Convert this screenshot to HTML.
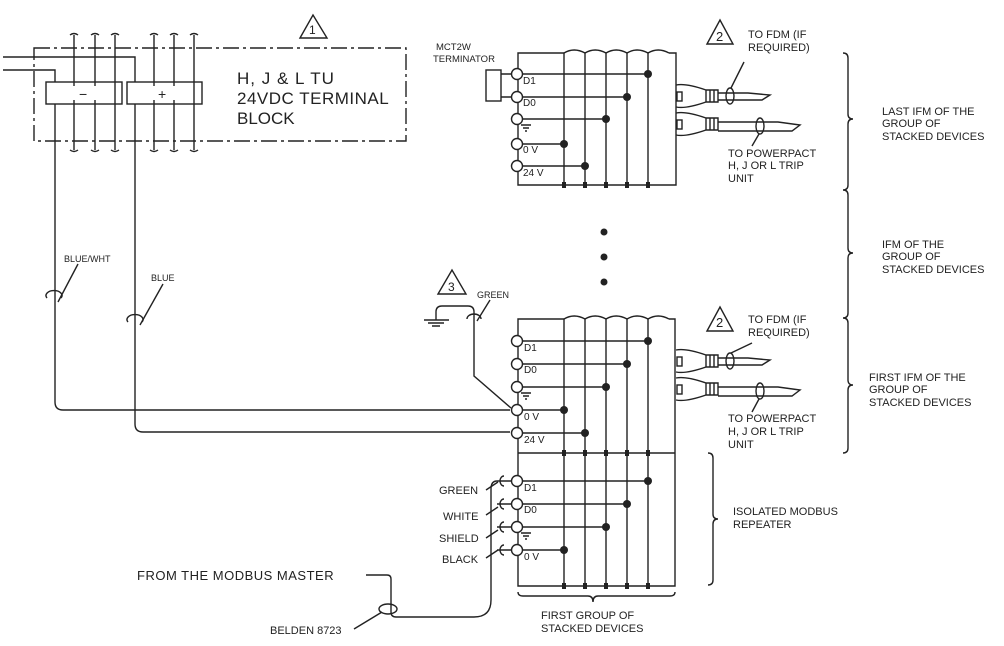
<!DOCTYPE html>
<html><head><meta charset="utf-8"><style>
html,body{margin:0;padding:0;background:#fff;}
svg{display:block;}
text{font-family:"Liberation Sans",sans-serif;fill:#222;}
</style></head><body>
<svg width="1004" height="646" viewBox="0 0 1004 646" xmlns="http://www.w3.org/2000/svg" fill="none" stroke="#222" stroke-width="1.4">
<!-- top terminal block -->
<rect x="34" y="48" width="372" height="93" stroke-dasharray="16,4,3,4"/>
<polygon points="300,38 313,15 327,38"/>
<text x="309" y="34" font-size="12" stroke="none">1</text>
<g>
<line x1="74" y1="35" x2="74" y2="150"/><line x1="95" y1="35" x2="95" y2="150"/><line x1="115" y1="35" x2="115" y2="150"/>
<line x1="154" y1="35" x2="154" y2="150"/><line x1="174" y1="35" x2="174" y2="150"/><line x1="194" y1="35" x2="194" y2="150"/>
<path d="M70,35q4,-3 8,0M91,35q4,-3 8,0M111,35q4,-3 8,0M150,35q4,-3 8,0M170,35q4,-3 8,0M190,35q4,-3 8,0"/>
<path d="M70,150q4,3 8,0M91,150q4,3 8,0M111,150q4,3 8,0M150,150q4,3 8,0M170,150q4,3 8,0M190,150q4,3 8,0"/>
</g>
<rect x="46" y="82" width="76" height="22" fill="#fff"/>
<rect x="127" y="82" width="75" height="22" fill="#fff"/>
<line x1="74" y1="82" x2="74" y2="104"/><line x1="95" y1="82" x2="95" y2="104"/><line x1="115" y1="82" x2="115" y2="104"/>
<line x1="154" y1="82" x2="154" y2="104"/><line x1="174" y1="82" x2="174" y2="104"/><line x1="194" y1="82" x2="194" y2="104"/>
<rect x="70" y="86" width="30" height="14" fill="#fff" stroke="none"/>
<rect x="149" y="86" width="30" height="14" fill="#fff" stroke="none"/>
<text x="79" y="99" font-size="14" stroke="none">−</text>
<text x="158" y="99" font-size="14" stroke="none">+</text>
<text x="237" y="84" font-size="17" stroke="none" letter-spacing="1">H, J &amp; L TU</text>
<text x="237" y="104" font-size="17" stroke="none" letter-spacing="0.5">24VDC TERMINAL</text>
<text x="237" y="124" font-size="17" stroke="none">BLOCK</text>
<path d="M3,57H135V82"/><path d="M3,70H55V82"/>
<!-- supply wires -->
<path d="M55,104V402q0,8 8,8H510"/>
<path d="M135,104V424q0,8 8,8H510"/>
<path d="M47,298a8,5 0 1 1 14,0"/><line x1="58" y1="302" x2="78" y2="264"/>
<text x="64" y="262" font-size="9" stroke="none">BLUE/WHT</text>
<path d="M128,322a8,5 0 1 1 14,0"/><line x1="140" y1="325" x2="163" y2="284"/>
<text x="151" y="281" font-size="9" stroke="none">BLUE</text>

<!-- top module -->
<path d="M564,53H518V185H676V53H669"/>
<path d="M564,53q10,-6 21,0q10,-6 21,0q10,-6 21,0q10,-6 21,0q10,-6 21,0"/>
<g>
<line x1="564" y1="53" x2="564" y2="185"/><line x1="585" y1="53" x2="585" y2="185"/><line x1="606" y1="53" x2="606" y2="185"/><line x1="627" y1="53" x2="627" y2="185"/><line x1="648" y1="53" x2="648" y2="185"/>
</g>
<g fill="#222" stroke="none">
<rect x="562" y="182" width="4" height="6"/><rect x="583" y="182" width="4" height="6"/><rect x="604" y="182" width="4" height="6"/><rect x="625" y="182" width="4" height="6"/><rect x="646" y="182" width="4" height="6"/>
<circle cx="648" cy="74" r="4"/><circle cx="627" cy="97" r="4"/><circle cx="606" cy="119" r="4"/><circle cx="564" cy="144" r="4"/><circle cx="585" cy="166" r="4"/>
</g>
<path d="M523,74H648M523,97H627M523,119H606M523,144H564M523,166H585"/>
<g fill="#fff"><circle cx="517" cy="74" r="5.5"/><circle cx="517" cy="97" r="5.5"/><circle cx="517" cy="119" r="5.5"/><circle cx="517" cy="144" r="5.5"/><circle cx="517" cy="166" r="5.5"/></g>
<rect x="486" y="70" width="15" height="31"/><path d="M501,74H511M501,97H511"/>
<text x="436" y="50" font-size="9.5" stroke="none">MCT2W</text>
<text x="433" y="62" font-size="9.5" stroke="none">TERMINATOR</text>
<g font-size="10" stroke="none">
<text x="523" y="84">D1</text><text x="523" y="106">D0</text><text x="523" y="153">0 V</text><text x="523" y="176">24 V</text>
</g>
<path d="M521,125h10M523,128h6M525,131h2"/>
<!-- top plugs -->
<g id="plugs">
<path d="M676,85q10,-2 30,5h12v12h-12q-20,7 -30,5"/>
<rect x="677" y="92" width="5" height="9"/>
<path d="M706,90v12M710,90v12M714,90v12M718,93h30l22,2l-8,5h-44"/>
<path d="M676,113q10,-2 30,5h12v12h-12q-20,7 -30,5"/>
<rect x="677" y="120" width="5" height="9"/>
<path d="M706,118v12M710,118v12M714,118v12M718,122h60l22,3l-8,6h-74"/>
</g>
<ellipse cx="730" cy="96" rx="4" ry="8"/><line x1="731" y1="88" x2="744" y2="62"/>
<ellipse cx="760" cy="126" rx="4" ry="8"/><line x1="759" y1="134" x2="752" y2="146"/>
<polygon points="707,44 720,20 733,44"/><text x="716" y="41" font-size="13" stroke="none">2</text>
<g font-size="11" stroke="none">
<text x="748" y="38">TO FDM (IF</text><text x="748" y="51">REQUIRED)</text>
<text x="728" y="157">TO POWERPACT</text><text x="728" y="169">H, J OR L TRIP</text><text x="728" y="182">UNIT</text>
</g>
<g fill="#222" stroke="none"><circle cx="604" cy="232" r="3.5"/><circle cx="604" cy="257" r="3.5"/><circle cx="604" cy="282" r="3.5"/></g>

<!-- bottom module -->
<path d="M564,319H518V586H675V319H669M518,453H675"/>
<path d="M564,319q10,-6 21,0q10,-6 21,0q10,-6 21,0q10,-6 21,0q10,-6 21,0"/>
<line x1="564" y1="319" x2="564" y2="586"/><line x1="585" y1="319" x2="585" y2="586"/><line x1="606" y1="319" x2="606" y2="586"/><line x1="627" y1="319" x2="627" y2="586"/><line x1="648" y1="319" x2="648" y2="586"/>
<g fill="#222" stroke="none">
<rect x="562" y="583" width="4" height="6"/><rect x="583" y="583" width="4" height="6"/><rect x="604" y="583" width="4" height="6"/><rect x="625" y="583" width="4" height="6"/><rect x="646" y="583" width="4" height="6"/>
<rect x="562" y="450" width="4" height="6"/><rect x="583" y="450" width="4" height="6"/><rect x="604" y="450" width="4" height="6"/><rect x="625" y="450" width="4" height="6"/><rect x="646" y="450" width="4" height="6"/>
<circle cx="648" cy="341" r="4"/><circle cx="627" cy="364" r="4"/><circle cx="606" cy="387" r="4"/><circle cx="564" cy="410" r="4"/><circle cx="585" cy="433" r="4"/>
<circle cx="648" cy="481" r="4"/><circle cx="627" cy="504" r="4"/><circle cx="606" cy="527" r="4"/><circle cx="564" cy="550" r="4"/>
</g>
<path d="M523,341H648M523,364H627M523,387H606M523,410H564M523,433H585M523,481H648M523,504H627M523,527H606M523,550H564"/>
<g fill="#fff">
<circle cx="517" cy="341" r="5.5"/><circle cx="517" cy="364" r="5.5"/><circle cx="517" cy="387" r="5.5"/><circle cx="517" cy="410" r="5.5"/><circle cx="517" cy="433" r="5.5"/>
<circle cx="517" cy="481" r="5.5"/><circle cx="517" cy="504" r="5.5"/><circle cx="517" cy="527" r="5.5"/><circle cx="517" cy="550" r="5.5"/>
</g>
<g font-size="10" stroke="none">
<text x="524" y="351">D1</text><text x="524" y="373">D0</text><text x="524" y="420">0 V</text><text x="524" y="443">24 V</text>
<text x="524" y="491">D1</text><text x="524" y="513">D0</text><text x="524" y="560">0 V</text>
</g>
<path d="M521,393h10M523,396h6M525,399h2M521,533h10M523,536h6M525,539h2"/>
<use href="#plugs" transform="translate(0,265)"/>
<ellipse cx="730" cy="361" rx="4" ry="8"/><line x1="731" y1="353" x2="752" y2="343"/>
<ellipse cx="760" cy="391" rx="4" ry="8"/><line x1="759" y1="399" x2="752" y2="412"/>
<polygon points="707,331 720,307 733,331"/><text x="716" y="327" font-size="13" stroke="none">2</text>
<g font-size="11" stroke="none">
<text x="748" y="323">TO FDM (IF</text><text x="748" y="336">REQUIRED)</text>
<text x="728" y="422">TO POWERPACT</text><text x="728" y="435">H, J OR L TRIP</text><text x="728" y="448">UNIT</text>
</g>
<!-- green ground -->
<polygon points="438,294 452,270 466,294"/><text x="448" y="291" font-size="12" stroke="none">3</text>
<path d="M424,320h25M428,323h16M432,326h8"/>
<path d="M436,320v-8q0,-6 6,-6h26q6,0 6,6v64l37,32"/>
<path d="M467,319a7,5 0 1 1 14,0"/><line x1="477" y1="321" x2="490" y2="300"/>
<text x="477" y="298" font-size="9" stroke="none">GREEN</text>
<!-- modbus wires -->
<path d="M511,481h-14M511,504h-14M511,527h-14M511,550h-14"/>
<path d="M504,476a4,5 0 1 0 0,10M504,499a4,5 0 1 0 0,10M504,522a4,5 0 1 0 0,10M504,545a4,5 0 1 0 0,10"/>
<path d="M497,481q-6,0 -6,8V600q0,17 -17,17H396q-5,0 -5,-5V579q0,-4 -4,-4H366"/>
<path d="M486,490l12,-8M486,515l12,-8M486,538l12,-8M486,558l12,-8"/>
<g font-size="11" stroke="none">
<text x="439" y="494">GREEN</text><text x="443" y="520">WHITE</text><text x="439" y="542">SHIELD</text><text x="442" y="563">BLACK</text>
</g>
<text x="137" y="580" font-size="13" stroke="none" letter-spacing="0.5">FROM THE MODBUS MASTER</text>
<ellipse cx="388" cy="609" rx="9" ry="5"/><line x1="382" y1="612" x2="354" y2="629"/>
<text x="270" y="634" font-size="11" stroke="none">BELDEN 8723</text>
<!-- braces -->
<path d="M518,592q0,4 5,4H588q5,0 5,6q0,-6 5,-6H670q5,0 5,-4"/>
<g font-size="11" stroke="none"><text x="541" y="619">FIRST GROUP OF</text><text x="541" y="632">STACKED DEVICES</text></g>
<path d="M708,453q5,0 5,5V514q0,5 5,5q-5,0 -5,5V580q0,5 -5,5"/>
<g font-size="11" stroke="none"><text x="733" y="515">ISOLATED MODBUS</text><text x="733" y="528">REPEATER</text></g>
<path d="M843,53q5,0 5,5V114q0,5 5,5q-5,0 -5,5V185q0,5 -5,5q5,0 5,5V248q0,5 5,5q-5,0 -5,5V313q0,5 -5,5q5,0 5,5V380q0,5 5,5q-5,0 -5,5V448q0,5 -5,5"/>
<g font-size="11" stroke="none">
<text x="882" y="115">LAST IFM OF THE</text><text x="882" y="127">GROUP OF</text><text x="882" y="140">STACKED DEVICES</text>
<text x="882" y="248">IFM OF THE</text><text x="882" y="260">GROUP OF</text><text x="882" y="273">STACKED DEVICES</text>
<text x="869" y="381">FIRST IFM OF THE</text><text x="869" y="393">GROUP OF</text><text x="869" y="406">STACKED DEVICES</text>
</g>
</svg>
</body></html>
